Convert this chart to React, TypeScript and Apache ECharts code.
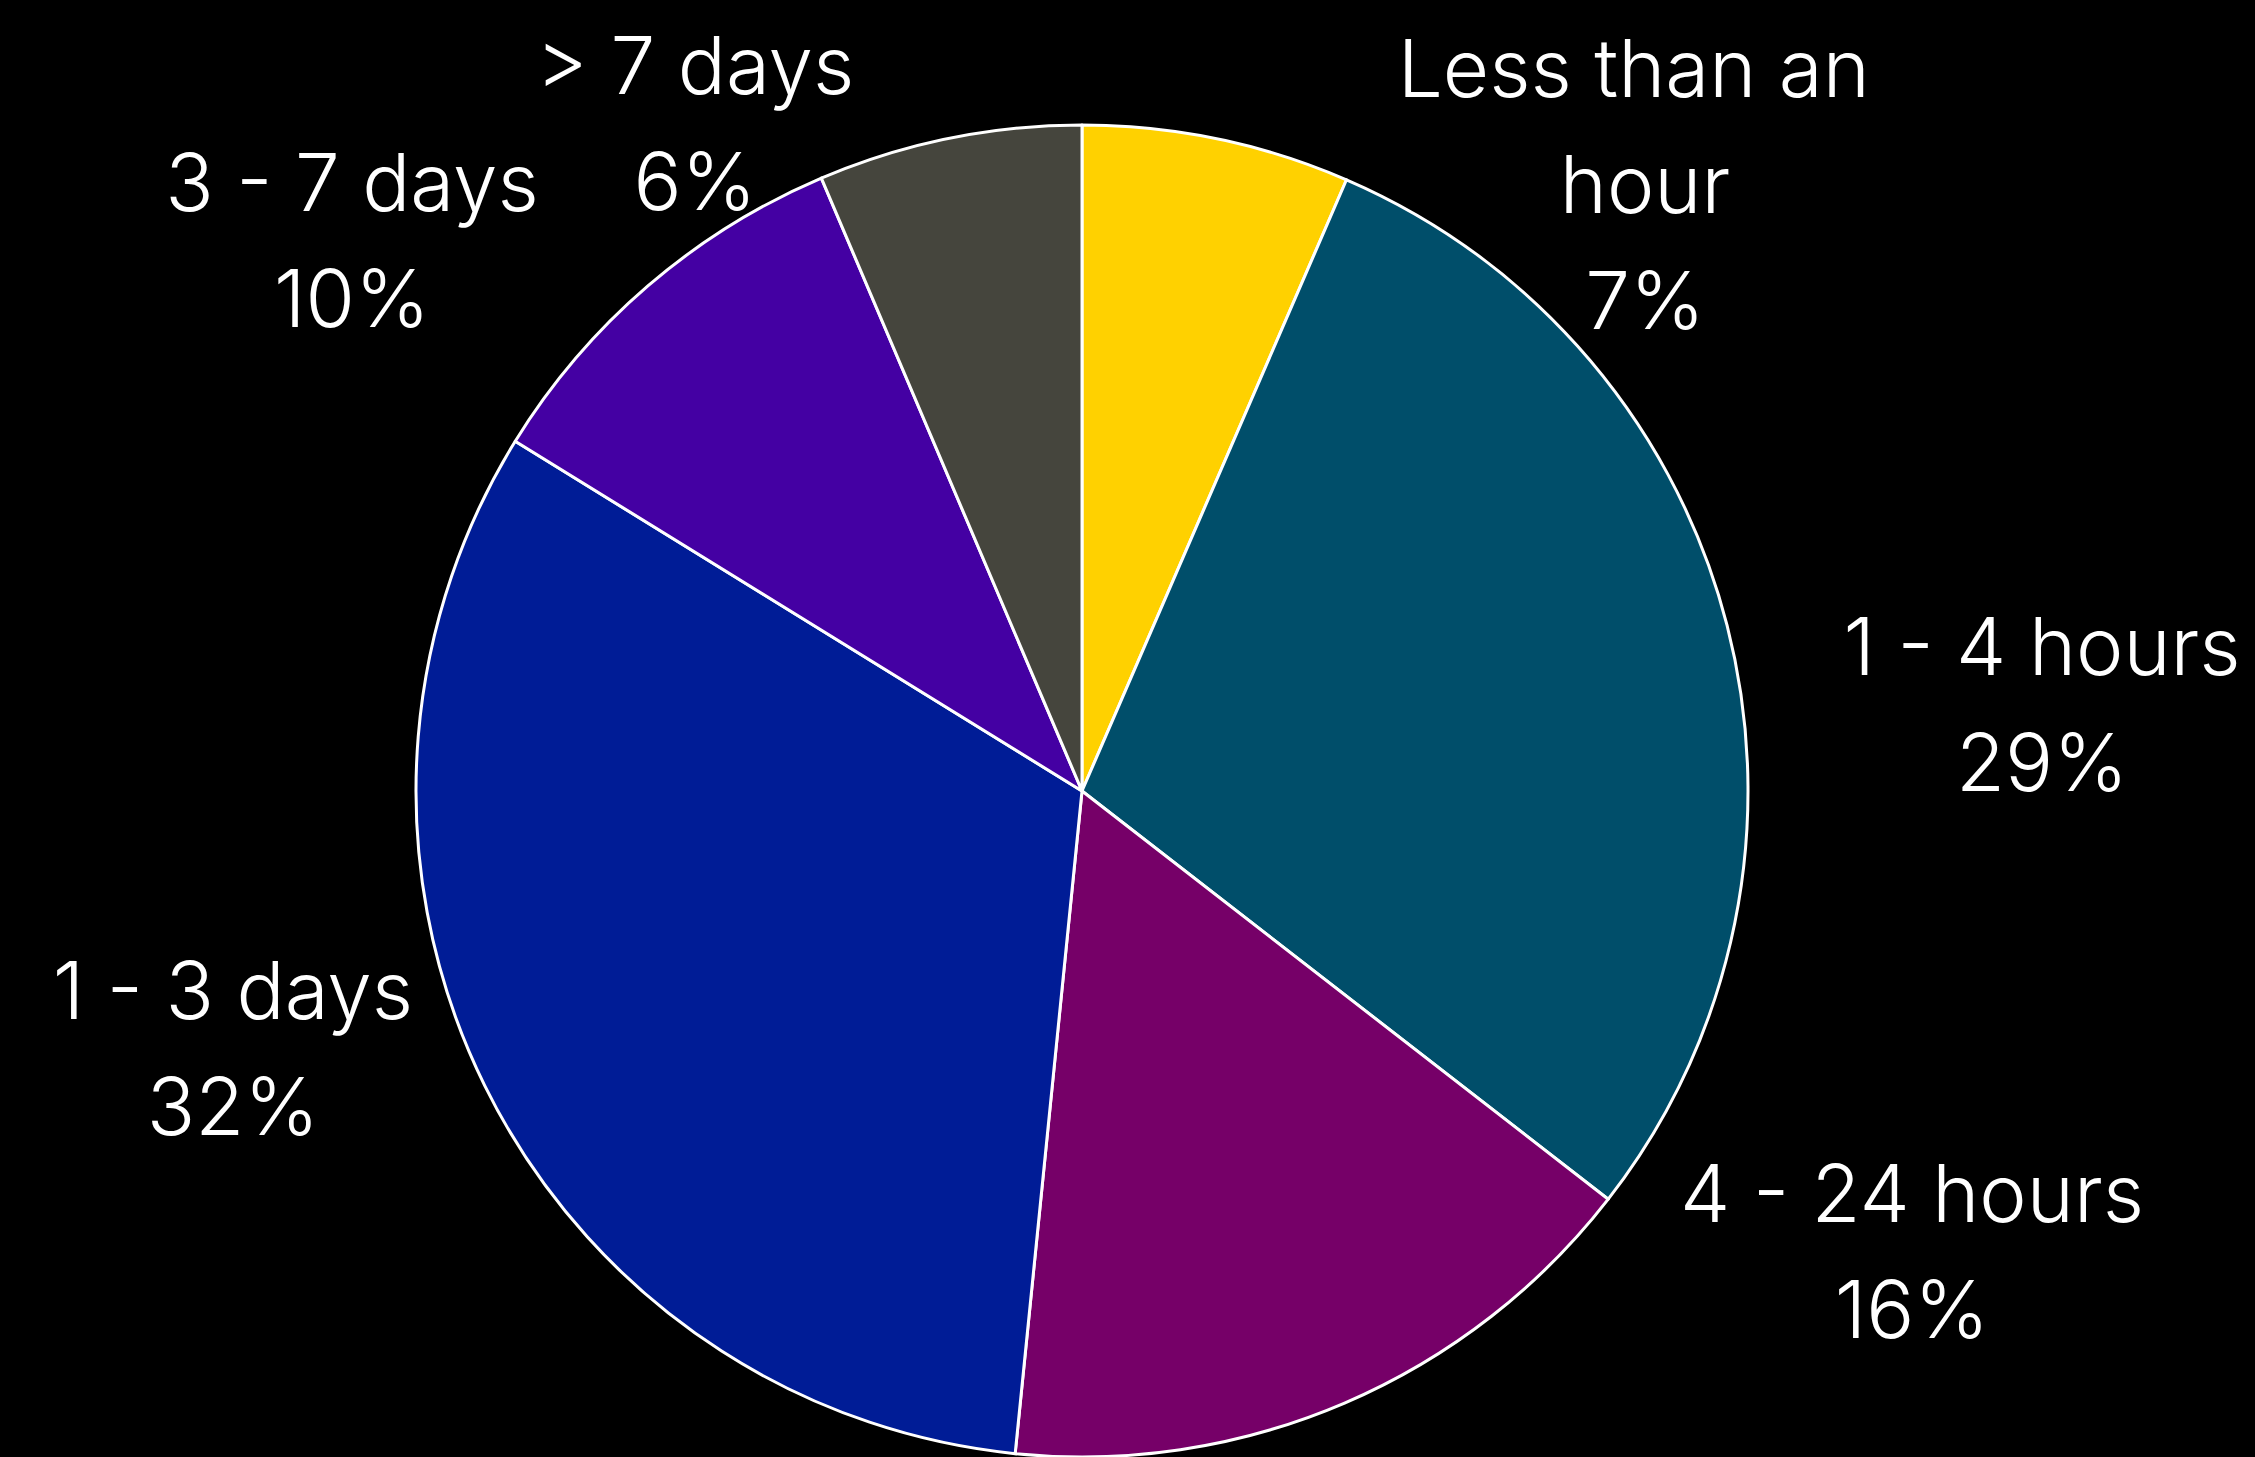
import React, { useEffect, useRef } from "react";
import * as echarts from "echarts";

const categories = [
  "Less than an hour",
  "1 - 4 hours",
  "4 - 24 hours",
  "1 - 3 days",
  "3 - 7 days",
  "> 7 days",
];
const shares = [6.5, 29.0, 16.1, 32.2, 9.8, 6.4];
const sliceColors = ["#FFD100", "#004E6A", "#760068", "#001C96", "#4400A3", "#45453D"];

// label anchor centres (layout only)
const labelAnchors: [number, number][] = [
  [1645, 183],
  [2042, 703],
  [1912, 1250],
  [233, 1047],
  [352, 239],
  [695, 122],
];

const W = 2255;
const H = 1457;

export default function App() {
  const ref = useRef<HTMLDivElement>(null);
  useEffect(() => {
    document.body.style.margin = "0";
    document.body.style.background = "#000";
    const chart = echarts.init(ref.current!, null, { renderer: "svg" });
    chart.setOption({
      animation: false,
      backgroundColor: "#000000",
      series: [
        {
          type: "pie",
          center: [1082, 791],
          radius: 666,
          startAngle: 90,
          clockwise: true,
          avoidLabelOverlap: false,
          itemStyle: { borderColor: "#ffffff", borderWidth: 3 },
          label: {
            show: true,
            position: "outside",
            color: "#ffffff",
            fontFamily: "Inter, Roboto, sans-serif",
            fontWeight: 300,
            fontSize: 80,
            lineHeight: 116,
            formatter: (p: any) => `${p.name}\n${Math.round(p.percent)}%`,
          },
          labelLine: { show: false },
          labelLayout: (params: any) => {
            const a = labelAnchors[params.dataIndex];
            return { x: a[0], y: a[1], align: "center", verticalAlign: "middle" };
          },
          data: categories.map((name, i) => ({
            name,
            value: shares[i],
            itemStyle: { color: sliceColors[i] },
            label: i === 0 ? { width: 500, overflow: "break" } : undefined,
          })),
        },
      ],
    });
    return () => chart.dispose();
  }, []);
  return (
    <div
      ref={ref}
      style={{ position: "fixed", left: 0, top: 0, width: W, height: H, background: "#000" }}
    />
  );
}
